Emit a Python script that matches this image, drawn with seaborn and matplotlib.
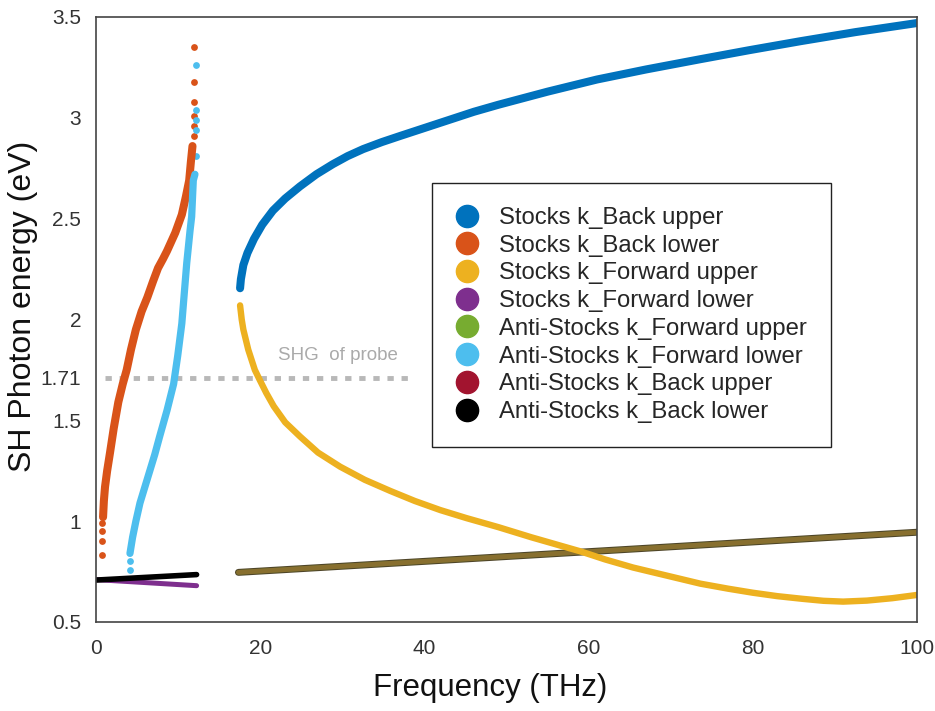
import numpy as np
import pandas as pd
import matplotlib
matplotlib.use("Agg")
import matplotlib.pyplot as plt
from matplotlib.lines import Line2D
import seaborn as sns

# valores (Frequency em THz, energia em eV)
stocks_back_upper_x = [17.5, 17.6, 17.9, 18.4, 19.2, 20.2, 21.5, 23.0, 24.8, 26.8, 28.8, 30.6, 32.5, 34.8, 37.0,
                       40.0, 43.0, 46.0, 49.0, 55.0, 61.0, 67.0, 73.5, 79.5, 85.8, 92.5, 100.0]
stocks_back_upper_y = [2.155, 2.20, 2.27, 2.33, 2.40, 2.47, 2.54, 2.60, 2.66, 2.72, 2.77, 2.81, 2.845, 2.88, 2.91,
                       2.95, 2.99, 3.03, 3.065, 3.13, 3.19, 3.24, 3.29, 3.335, 3.38, 3.425, 3.47]

stocks_fwd_upper_x = [17.5, 17.7, 17.9, 18.5, 19.3, 19.9, 20.7, 21.6, 23.0, 24.8, 27.0, 29.7, 32.7, 35.8, 38.8,
                      41.9, 45.1, 49.0, 53.0, 56.0, 59.0, 62.0, 65.4, 69.5, 73.6, 77.0, 80.0, 83.0, 86.0,
                      88.6, 91.0, 93.9, 97.0, 100.0]
stocks_fwd_upper_y = [2.07, 2.00, 1.95, 1.85, 1.75, 1.70, 1.635, 1.57, 1.49, 1.42, 1.34, 1.27, 1.205, 1.15, 1.10,
                      1.055, 1.015, 0.97, 0.92, 0.885, 0.85, 0.81, 0.77, 0.73, 0.69, 0.665, 0.645, 0.628, 0.615,
                      0.605, 0.601, 0.606, 0.618, 0.634]

anti_upper_x = [17.3, 100.0]   # k_Forward upper e k_Back upper ficam sobrepostas
anti_upper_y = [0.746, 0.945]

stocks_back_lower_x = [0.8, 0.9, 1.04, 1.3, 1.65, 2.1, 2.66, 3.2, 3.68, 4.2, 4.8, 5.5, 6.2, 6.9, 7.5, 8.1, 8.6, 9.6,
                       10.4, 10.9, 11.3, 11.5, 11.7]
stocks_back_lower_y = [1.02, 1.10, 1.17, 1.25, 1.34, 1.46, 1.59, 1.68, 1.75, 1.85, 1.95, 2.04, 2.11, 2.19, 2.255,
                       2.30, 2.34, 2.43, 2.52, 2.61, 2.69, 2.78, 2.86]
stocks_back_lower_dots_x = [0.7, 0.7, 0.7, 0.7, 11.9, 11.9, 11.9, 11.9, 11.9, 11.9]
stocks_back_lower_dots_y = [0.83, 0.90, 0.95, 0.99, 2.91, 2.96, 3.01, 3.08, 3.18, 3.35]

anti_fwd_lower_x = [4.08, 4.4, 4.8, 5.3, 5.9, 6.5, 7.1, 7.7, 8.6, 9.4, 9.9, 10.4, 10.7, 11.0, 11.4, 11.6, 11.8, 12.0]
anti_fwd_lower_y = [0.84, 0.92, 1.00, 1.09, 1.17, 1.25, 1.33, 1.42, 1.55, 1.68, 1.82, 1.98, 2.13, 2.28, 2.44,
                    2.51, 2.69, 2.72]
anti_fwd_lower_dots_x = [4.08, 4.08, 12.1, 12.1, 12.1, 12.1, 12.1]
anti_fwd_lower_dots_y = [0.76, 0.80, 2.81, 2.94, 2.99, 3.04, 3.26]

stocks_fwd_lower_x = [0.0, 12.2]
stocks_fwd_lower_y = [0.71, 0.68]
anti_back_lower_x = [0.0, 12.2]
anti_back_lower_y = [0.708, 0.735]

shg_x = [1.0, 38.5]
shg_y = [1.71, 1.71]

legend_labels = ["Stocks k_Back upper", "Stocks k_Back lower", "Stocks k_Forward upper",
                 "Stocks k_Forward lower", "Anti-Stocks k_Forward upper", "Anti-Stocks k_Forward lower",
                 "Anti-Stocks k_Back upper", "Anti-Stocks k_Back lower"]
cores = ["#0072BD", "#D95319", "#EDB120", "#7E2F8E", "#77AC30", "#4DBEEE", "#A2142F", "#000000"]

x_ticks = [0, 20, 40, 60, 80, 100]
y_ticks = [0.5, 1, 1.5, 1.71, 2, 2.5, 3, 3.5]
y_tick_labels = ["0.5", "1", "1.5", "1.71", "2", "2.5", "3", "3.5"]

sns.set_style("white")
plt.rcParams["font.family"] = ["Liberation Sans", "DejaVu Sans"]

fig = plt.figure(figsize=(9.35, 7.11), dpi=100)
ax = fig.add_axes([0.1032, 0.1252, 0.8775, 0.8509])

def linha(x, y, cor, lw, alpha=1.0):
    sns.lineplot(x=x, y=y, color=cor, linewidth=lw, alpha=alpha, sort=False,
                 estimator=None, ax=ax, legend=False)
    ax.lines[-1].set_solid_capstyle("round")
    ax.lines[-1].set_solid_joinstyle("round")

# linha tracejada do SHG
linha(shg_x, shg_y, "#b8b8b8", 3.5)
ax.lines[-1].set_linestyle((0, (1.3, 1.6)))
ax.lines[-1].set_dash_capstyle("butt")
ax.text(22.1, 1.82, "SHG  of probe", color="#aaaaaa", fontsize=13.5, va="center")

# lado direito (as duas Anti-Stocks upper se sobrepoem -> cor oliva)
linha(anti_upper_x, anti_upper_y, "#4f4528", 5.0)
linha(anti_upper_x, anti_upper_y, cores[4], 3.4)
linha(anti_upper_x, anti_upper_y, cores[6], 3.4, alpha=0.4)
linha(stocks_fwd_upper_x, stocks_fwd_upper_y, cores[2], 4.6)
linha(stocks_back_upper_x, stocks_back_upper_y, cores[0], 5.8)

# lado esquerdo
linha(stocks_back_lower_x, stocks_back_lower_y, cores[1], 5.8)
sns.scatterplot(x=stocks_back_lower_dots_x, y=stocks_back_lower_dots_y, color=cores[1],
                s=24, linewidth=0, ax=ax, legend=False)
linha(anti_fwd_lower_x, anti_fwd_lower_y, cores[5], 5.2)
sns.scatterplot(x=anti_fwd_lower_dots_x, y=anti_fwd_lower_dots_y, color=cores[5],
                s=24, linewidth=0, ax=ax, legend=False)
linha(stocks_fwd_lower_x, stocks_fwd_lower_y, cores[3], 3.6)
linha(anti_back_lower_x, anti_back_lower_y, cores[7], 4.0)

ax.set_xlim(0, 100)
ax.set_ylim(0.5, 3.5)
ax.set_xticks(x_ticks)
ax.set_yticks(y_ticks)
ax.set_yticklabels(y_tick_labels)
ax.tick_params(direction="in", length=5, width=1, colors="#444444", labelsize=15,
               labelcolor="#333333")
ax.tick_params(axis="x", pad=12)
ax.tick_params(axis="y", pad=11)
for s in ax.spines.values():
    s.set_color("#444444")
    s.set_linewidth(1.2)
    s.set_visible(True)

ax.set_xlabel("Frequency (THz)", fontsize=22.5, color="#111111")
ax.set_ylabel("SH Photon energy (eV)", fontsize=23, color="#111111")
ax.xaxis.set_label_coords(0.4796, -0.0843)
ax.yaxis.set_label_coords(-0.071, 0.522)

handles = [Line2D([0], [0], marker="o", linestyle="none", markersize=16,
                  markerfacecolor=c, markeredgecolor=c) for c in cores]
leg = ax.legend(handles, legend_labels, loc="upper left", bbox_to_anchor=(0.409, 0.7256),
                fontsize=17.2, frameon=True, fancybox=False, framealpha=1,
                edgecolor="#222222", labelspacing=0.24, handlelength=0.95,
                handletextpad=0.85, borderpad=1.0, borderaxespad=0)
leg.get_frame().set_linewidth(1.0)

fig.savefig("out.png", dpi=100)
